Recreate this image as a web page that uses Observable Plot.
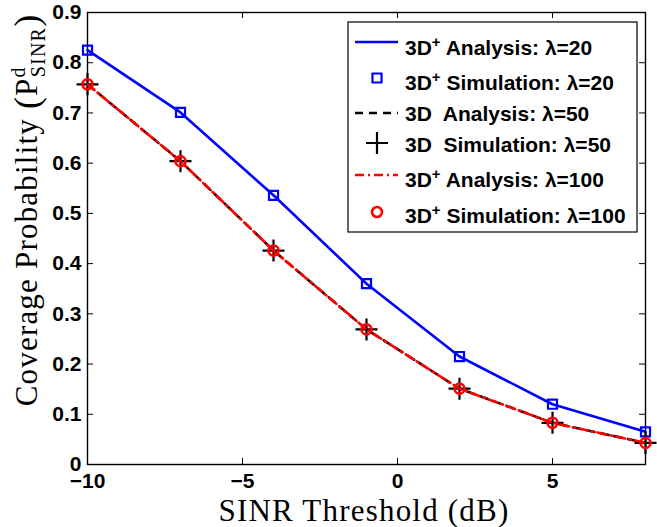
<!DOCTYPE html>
<html><head><meta charset="utf-8">
<script src="https://cdn.jsdelivr.net/npm/d3@7"></script>
<script src="https://cdn.jsdelivr.net/npm/@observablehq/plot@0.6"></script>
<style>body{margin:0;background:#fff} #chart svg{display:block}</style>
</head><body><div id="chart"></div>
<script>
// ---- data ----
const sinrThreshold = [-10, -7, -4, -1, 2, 5, 8];
const analysis3DPlusL20 = [0.825, 0.701, 0.536, 0.360, 0.215, 0.120, 0.065];
const simulation3DPlusL20 = [0.825, 0.701, 0.536, 0.360, 0.215, 0.120, 0.065];
const analysis3DL50 = [0.757, 0.604, 0.426, 0.269, 0.151, 0.083, 0.043];
const simulation3DL50 = [0.757, 0.604, 0.426, 0.269, 0.151, 0.083, 0.043];
const analysis3DPlusL100 = [0.757, 0.604, 0.426, 0.269, 0.151, 0.083, 0.043];
const simulation3DPlusL100 = [0.757, 0.604, 0.426, 0.269, 0.151, 0.083, 0.043];
const xTicks = [-10, -5, 0, 5];
const yTicks = [0, 0.1, 0.2, 0.3, 0.4, 0.5, 0.6, 0.7, 0.8, 0.9];
const xDomain = [-10, 8];
const yDomain = [0, 0.9];
const legendEntries = [
  {base: "3D", sup: "+", rest: " Analysis: λ=20"},
  {base: "3D", sup: "+", rest: " Simulation: λ=20"},
  {base: "3D", sup: "", rest: "  Analysis: λ=50"},
  {base: "3D", sup: "", rest: "  Simulation: λ=50"},
  {base: "3D", sup: "+", rest: " Analysis: λ=100"},
  {base: "3D", sup: "+", rest: " Simulation: λ=100"}
];
const xLabel = "SINR Threshold (dB)";
const yLabel = "Coverage Probability";

const rows = (ys) => sinrThreshold.map((x, i) => ({x, y: ys[i]}));
const plusSymbol = {
  draw(context, size) {
    const r = Math.sqrt(size / Math.PI);
    context.moveTo(-r, 0); context.lineTo(r, 0);
    context.moveTo(0, -r); context.lineTo(0, r);
  }
};
const BLUE = "#0000ff", RED = "#ff0000", BLACK = "#000";
const dashBlack = "8,6", dashRed = "9,4,2,4";
const LW = 2.6;

const chart = Plot.plot({
  width: 657, height: 527,
  marginLeft: 87, marginRight: 12, marginTop: 12, marginBottom: 63,
  style: {fontFamily: "'Liberation Sans', Arial, sans-serif", fontSize: "21px", fontWeight: "bold", color: "#000", background: "#fff"},
  x: {domain: xDomain, ticks: xTicks, tickSize: 0, tickPadding: 9, label: null},
  y: {domain: yDomain, ticks: yTicks, tickSize: 0, tickPadding: 6, label: null,
      tickFormat: d => d === 0 ? "0" : d3.format(".1f")(d)},
  marks: [
    Plot.frame({stroke: "#000", strokeWidth: 1.4}),
    // inward ticks (MATLAB style)
    Plot.ruleX(xTicks, {x: d => d, y1: yDomain[0], y2: yDomain[0], insetTop: -6, stroke: "#000"}),
    Plot.ruleX(xTicks, {x: d => d, y1: yDomain[1], y2: yDomain[1], insetBottom: -6, stroke: "#000"}),
    Plot.ruleY(yTicks, {y: d => d, x1: xDomain[0], x2: xDomain[0], insetRight: -6, stroke: "#000"}),
    Plot.ruleY(yTicks, {y: d => d, x1: xDomain[1], x2: xDomain[1], insetLeft: -6, stroke: "#000"}),
    // series
    Plot.line(rows(analysis3DPlusL20), {x: "x", y: "y", stroke: BLUE, strokeWidth: LW}),
    Plot.dot(rows(simulation3DPlusL20), {x: "x", y: "y", symbol: "square", r: 5.1, stroke: BLUE, strokeWidth: 2.2, fill: "none"}),
    Plot.line(rows(analysis3DL50), {x: "x", y: "y", stroke: BLACK, strokeWidth: LW, strokeDasharray: dashBlack}),
    Plot.dot(rows(simulation3DL50), {x: "x", y: "y", symbol: plusSymbol, r: 11, stroke: BLACK, strokeWidth: 2.2, fill: "none"}),
    Plot.line(rows(analysis3DPlusL100), {x: "x", y: "y", stroke: RED, strokeWidth: LW, strokeDasharray: dashRed}),
    Plot.dot(rows(simulation3DPlusL100), {x: "x", y: "y", symbol: "circle", r: 5, stroke: RED, strokeWidth: 2.6, fill: "none"}),
    Plot.axisX({ticks: xTicks, tickSize: 0, tickPadding: 9, label: null}),
    Plot.axisY({ticks: yTicks, tickSize: 0, tickPadding: 6, label: null, tickFormat: d => d === 0 ? "0" : d3.format(".1f")(d)})
  ]
});
document.getElementById("chart").appendChild(chart);

const svg = d3.select(chart);
const serif = "'Liberation Serif', 'Times New Roman', serif";

// x label
svg.append("text")
  .attr("x", 364).attr("y", 521)
  .attr("text-anchor", "middle")
  .style("font-family", serif).style("font-weight", "normal")
  .style("font-size", "31px").style("letter-spacing", "1.2px")
  .text(xLabel);

// y label
const yl = svg.append("text")
  .attr("transform", "translate(37,210) rotate(-90)")
  .attr("text-anchor", "middle")
  .style("font-family", serif).style("font-weight", "normal")
  .style("font-size", "31px").style("letter-spacing", "1.2px");
yl.append("tspan").text(yLabel + " ");
yl.append("tspan").style("font-size", "36px").attr("dy", 2).text("(");
yl.append("tspan").attr("dy", -2).text("P");
yl.append("tspan").style("font-size", "20px").attr("dy", -12).text("d");
yl.append("tspan").style("font-size", "20px").attr("dx", -11).attr("dy", 20).text("SINR");
yl.append("tspan").style("font-size", "36px").attr("dy", -6).text(")");

// legend
const lg = svg.append("g").attr("text-anchor", "start");
lg.append("rect").attr("x", 348).attr("y", 22).attr("width", 289).attr("height", 210)
  .attr("fill", "#fff").attr("stroke", "#000").attr("stroke-width", 1.2);
const sampleY = [42, 78, 113, 143, 175, 212];
const baseY = [55, 90, 121, 152, 187, 223];
const styles = [
  {type: "line", stroke: BLUE, dash: null},
  {type: "square", stroke: BLUE},
  {type: "line", stroke: BLACK, dash: dashBlack},
  {type: "plus", stroke: BLACK},
  {type: "line", stroke: RED, dash: dashRed},
  {type: "circle", stroke: RED}
];
styles.forEach((s, i) => {
  const y = sampleY[i];
  if (s.type === "line") {
    lg.append("line").attr("x1", 355).attr("x2", 398).attr("y1", y).attr("y2", y)
      .attr("stroke", s.stroke).attr("stroke-width", LW).attr("stroke-dasharray", s.dash);
  } else {
    const sym = s.type === "square" ? d3.symbolSquare : s.type === "circle" ? d3.symbolCircle : plusSymbol;
    const r = s.type === "square" ? 5.1 : s.type === "circle" ? 5 : 11;
    lg.append("path").attr("d", d3.symbol(sym, r * r * Math.PI)())
      .attr("transform", `translate(377,${y})`)
      .attr("fill", "none").attr("stroke", s.stroke).attr("stroke-width", s.type === "circle" ? 2.6 : 2.2);
  }
  const t = lg.append("text").attr("x", 405).attr("y", baseY[i])
    .attr("text-anchor", "start")
    .style("white-space", "pre").attr("xml:space", "preserve")
    .style("font-family", "'Liberation Sans', Arial, sans-serif")
    .style("font-weight", "bold").style("font-size", "21px");
  const e = legendEntries[i];
  t.append("tspan").text(e.base);
  if (e.sup) {
    t.append("tspan").style("font-size", "15px").attr("dy", -8).text(e.sup);
    t.append("tspan").attr("dy", 8).text(e.rest);
  } else {
    t.append("tspan").text(e.rest);
  }
});
</script>
</body></html>
